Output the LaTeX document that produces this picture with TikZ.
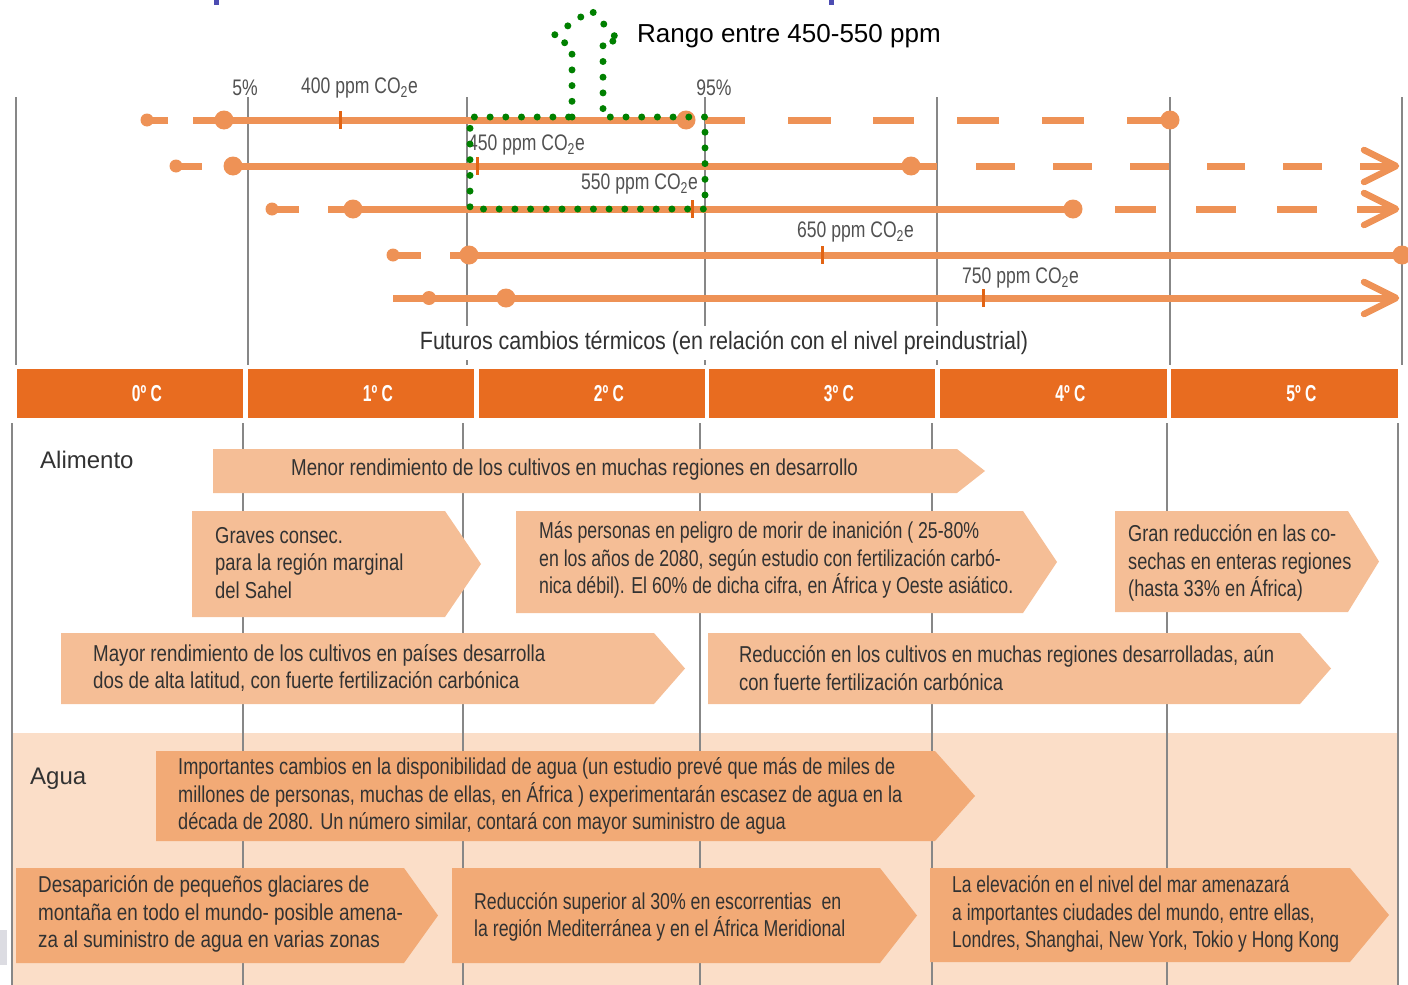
\documentclass[tikz,border=0pt]{standalone}
\usepackage{fontspec}
\setmainfont{Liberation Sans}
\definecolor{barc}{RGB}{238,146,86}
\definecolor{tickc}{RGB}{226,100,20}
\definecolor{hdr}{RGB}{232,108,32}
\definecolor{foodarr}{RGB}{245,190,150}
\definecolor{waterarr}{RGB}{242,170,118}
\definecolor{waterbg}{RGB}{251,222,200}
\definecolor{gridc}{RGB}{135,135,135}
\definecolor{txt}{RGB}{50,50,50}
\definecolor{dotg}{RGB}{0,128,0}
\newcommand\pentarrow[7]{% name, x1, y1, xp, xtip, y2, colour
  \fill[#7] (#2,#3) -- (#4,#3) -- (#5,{(#3+#6)/2}) -- (#4,#6) -- (#2,#6) -- cycle;
  \coordinate (#1) at (#2,#3);}
\begin{document}
\begin{tikzpicture}[x=1pt,y=-1pt,
  every node/.style={inner sep=0pt},
  grid/.style={gridc, line width=2.4pt},
  barline/.style={barc, line width=7pt},
  tickmark/.style={tickc, line width=3pt},
  chev/.style={barc, line width=6.5pt, line cap=round, line join=round},
  lab/.style={font={\addfontfeature{FakeStretch=0.78}\fontsize{22.5}{26}\selectfont}, text=txt!85, anchor=west},
  btxt/.style={font={\addfontfeature{FakeStretch=#1}\fontsize{23}{27.5}\selectfont}, text=txt, align=left, anchor=west},
  hdrtxt/.style={font={\addfontfeature{FakeStretch=0.68}\bfseries\fontsize{23}{26}\selectfont}, text=white},
  sect/.style={font=\fontsize{24}{28}\selectfont, text=txt, anchor=west},
  greendots/.style={dotg, line width=7pt, line cap=round, dash pattern=on 0pt off 15.7pt}
]
\useasboundingbox (0,0) rectangle (1408,985);
% artefacts
\fill[blue!40!gray] (214,0) rectangle (219,5);
\fill[blue!40!gray] (829,0) rectangle (834,5);
\fill[blue!10!gray!25] (0,930) rectangle (7,965);
% water background
\fill[waterbg] (12,733) rectangle (1398,985);
% grid lines
\foreach \x in {16,248,467,705,937,1170,1402} \draw[grid] (\x,97) -- (\x,365);
\foreach \x in {12,243,463,700,932,1167,1398} \draw[grid] (\x,423) -- (\x,985);
% header
\foreach \a/\b/\t [count=\i] in {17/243/0º C,248/474/1º C,479/705/2º C,709/935/3º C,940/1167/4º C,1171/1398/5º C}{
  \fill[hdr] (\a,369) rectangle (\b,418);
  \node[hdrtxt] (h\i) at ({(\a+\b)/2+17},394) {\t};
}
\node[font={\addfontfeature{FakeStretch=0.86}\fontsize{25}{28}\selectfont}, text=txt, fill=white, inner xsep=4pt, inner ysep=5pt] (fut) at (724,343) {Futuros cambios térmicos (en relación con el nivel preindustrial)};
% row 1
\fill[barc] (147,120) circle[radius=6.5pt];
\draw[barline] (147,120) -- (168,120);
\draw[barline] (193,120) -- (686,120);
\fill[barc] (224,120) circle[radius=9.5pt];
\fill[barc] (686,120) circle[radius=9.5pt];
\foreach \a/\b in {705/745,788/831,873/914,957/999,1042/1084,1127/1170} \draw[barline] (\a,120) -- (\b,120);
\fill[barc] (1170,120) circle[radius=9.5pt];
\draw[tickmark] (340,111) -- (340,129);
% row 2
\fill[barc] (176,166) circle[radius=6.5pt];
\draw[barline] (176,166) -- (202,166);
\draw[barline] (233,166) -- (937,166);
\fill[barc] (233,166) circle[radius=9.5pt];
\fill[barc] (911,166) circle[radius=9.5pt];
\foreach \a/\b in {976/1015,1053/1092,1130/1169,1207/1245,1283/1322,1360/1394} \draw[barline] (\a,166) -- (\b,166);
\draw[chev] (1364,150) -- (1396,166) -- (1364,182);
\draw[tickmark] (477,157) -- (477,175);
% row 3
\fill[barc] (272,209) circle[radius=6.5pt];
\draw[barline] (272,209) -- (299,209);
\draw[barline] (328,209) -- (1073,209);
\fill[barc] (353,209) circle[radius=9.5pt];
\fill[barc] (1073,209) circle[radius=9.5pt];
\foreach \a/\b in {1115/1156,1196/1236,1277/1317,1357/1394} \draw[barline] (\a,209) -- (\b,209);
\draw[chev] (1364,193) -- (1396,209) -- (1364,225);
\draw[tickmark] (692,200) -- (692,218);
% row 4
\fill[barc] (393,255) circle[radius=6.5pt];
\draw[barline] (393,255) -- (421,255);
\draw[barline] (450,255) -- (1402,255);
\fill[barc] (469,255) circle[radius=9.5pt];
\fill[barc] (1402,255) circle[radius=9.5pt];
\draw[tickmark] (822,246) -- (822,264);
% row 5
\draw[barline] (393,298) -- (1394,298);
\draw[chev] (1364,282) -- (1396,298) -- (1364,314);
\fill[barc] (429,298) circle[radius=7pt];
\fill[barc] (506,298) circle[radius=9.5pt];
\draw[tickmark] (983,289) -- (983,307);
% labels
\node[lab, anchor=center] (p5) at (245,88) {5\%};
\node[lab] (p400) at (301,88) {400 ppm CO\textsubscript{2}e};
\node[lab, anchor=center] (p95) at (714,88) {95\%};
\node[lab] (p450) at (468,145) {450 ppm CO\textsubscript{2}e};
\node[lab] (p550) at (581,184) {550 ppm CO\textsubscript{2}e};
\node[lab] (p650) at (797,232) {650 ppm CO\textsubscript{2}e};
\node[lab] (p750) at (962,278) {750 ppm CO\textsubscript{2}e};
% green dotted range
\draw[greendots] (572,117) -- (572,47) -- (553,36) -- (591,10) -- (620,42) -- (603,40) -- (603,117) -- (705,117) -- (705,209) -- (470,209) -- (470,117) -- cycle;
\node[font=\fontsize{26}{30}\selectfont, anchor=west] (rango) at (637,36) {Rango entre 450-550 ppm};
% sections
\node[sect] (alim) at (40,460) {Alimento};
\node[sect] (agua) at (30,779) {Agua};
% food arrows
\pentarrow{a1}{213}{449}{957}{985}{493}{foodarr}
\node[btxt=0.815] (t1) at (291,470) {Menor rendimiento de los cultivos en muchas regiones en desarrollo};
\pentarrow{a2}{192}{511}{445}{481}{617}{foodarr}
\node[btxt=0.80] (t2) at (215,563) {Graves consec.\\para la región marginal\\del Sahel};
\pentarrow{a3}{516}{511}{1023}{1057}{613}{foodarr}
\node[btxt=0.77] (t3) at (539,560) {Más personas en peligro de morir de inanición ( 25-80\%\\en los años de 2080, según estudio con fertilización carbó-\\nica débil). El 60\% de dicha cifra, en África y Oeste asiático.};
\pentarrow{a4}{1115}{511}{1348}{1379}{612}{foodarr}
\node[btxt=0.79] (t4) at (1128,563) {Gran reducción en las co-\\sechas en enteras regiones\\(hasta 33\% en África)};
\pentarrow{a5}{61}{633}{654}{685}{704}{foodarr}
\node[btxt=0.815] (t5) at (93,668) {Mayor rendimiento de los cultivos en países desarrolla\\dos de alta latitud, con fuerte fertilización carbónica};
\pentarrow{a6}{708}{633}{1300}{1331}{704}{foodarr}
\node[btxt=0.80] (t6) at (739,668) {Reducción en los cultivos en muchas regiones desarrolladas, aún\\con fuerte fertilización carbónica};
% water arrows
\pentarrow{b1}{156}{751}{935}{975}{841}{waterarr}
\node[btxt=0.79] (u1) at (178,796) {Importantes cambios en la disponibilidad de agua (un estudio prevé que más de miles de\\millones de personas, muchas de ellas, en África ) experimentarán escasez de agua en la\\década de 2080. Un número similar, contará con mayor suministro de agua};
\pentarrow{b2}{16}{868}{404}{438}{963}{waterarr}
\node[btxt=0.82] (u2) at (38,914) {Desaparición de pequeños glaciares de\\montaña en todo el mundo- posible amena-\\za al suministro de agua en varias zonas};
\pentarrow{b3}{452}{868}{880}{917}{963}{waterarr}
\node[btxt=0.77] (u3) at (474,917) {Reducción superior al 30\% en escorrentias\ \ en\\la región Mediterránea y en el África Meridional};
\pentarrow{b4}{930}{868}{1350}{1389}{962}{waterarr}
\node[btxt=0.76] (u4) at (952,914) {La elevación en el nivel del mar amenazará\\a importantes ciudades del mundo, entre ellas,\\Londres, Shanghai, New York, Tokio y Hong Kong};
\end{tikzpicture}
\end{document}
